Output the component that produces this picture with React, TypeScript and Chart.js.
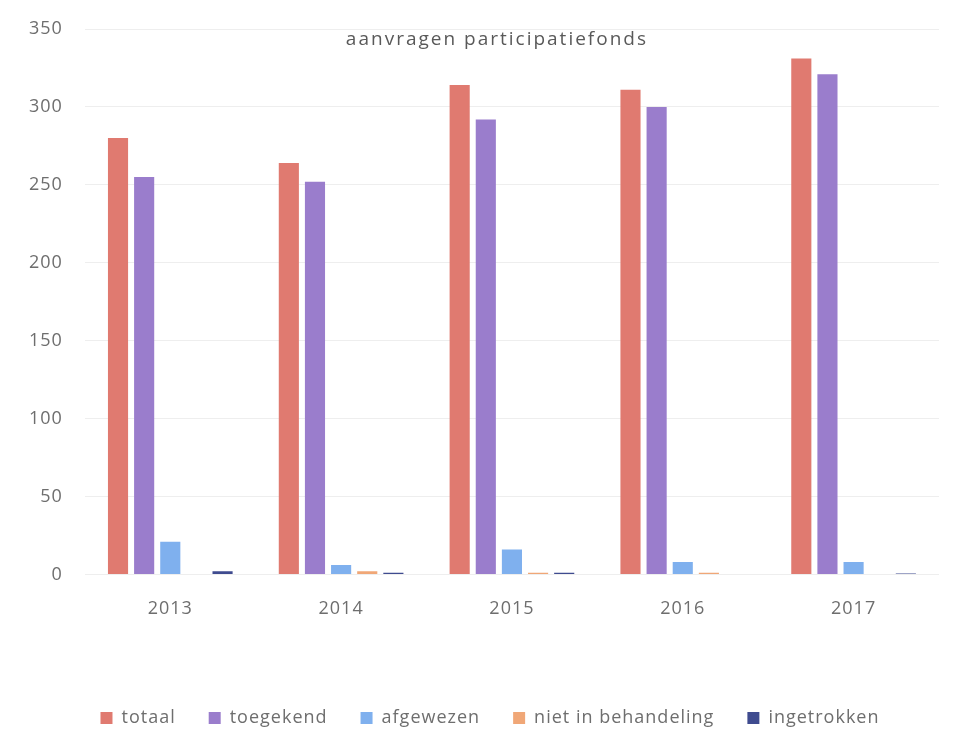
import React, { useEffect, useRef } from "react";
import { Chart, registerables } from "chart.js";

Chart.register(...registerables);

const categories = ["2013", "2014", "2015", "2016", "2017"];
const totaal = [280, 264, 314, 311, 331];
const toegekend = [255, 252, 292, 300, 321];
const afgewezen = [21, 6, 16, 8, 8];
const nietInBehandeling = [0, 2, 1, 1, 0];
const ingetrokken = [2, 1, 1, 0, 0.5];
const yTicks = [0, 50, 100, 150, 200, 250, 300, 350];

const FONT = "'Open Sans', Lato, sans-serif";
const TEXT = "#6e6e6e";

const spacingPlugin = {
  id: "spacing",
  beforeUpdate(chart: any) {
    chart.ctx.letterSpacing = "1px";
  },
  beforeLayout(chart: any) {
    chart.ctx.letterSpacing = "1px";
  },
  afterLayout(chart: any) {
    if (chart.legend) {
      chart.legend.left += 17;
      chart.legend.right += 17;
    }
  },
  beforeDraw(chart: any) {
    chart.ctx.letterSpacing = "1px";
  },
};

const titlePlugin = {
  id: "innerTitle",
  afterDraw(chart: any) {
    const { ctx, chartArea } = chart;
    ctx.save();
    ctx.letterSpacing = "2px";
    ctx.font = `19px ${FONT}`;
    ctx.fillStyle = "#595959";
    ctx.textAlign = "center";
    ctx.textBaseline = "middle";
    ctx.fillText("aanvragen participatiefonds", (chartArea.left + chartArea.right) / 2 - 15, chartArea.top + 11);
    ctx.restore();
  },
};

export default function App() {
  const ref = useRef<HTMLCanvasElement>(null);
  useEffect(() => {
    document.body.style.margin = "0";
    const ds = (label: string, data: number[], color: string) => ({
      label,
      data,
      backgroundColor: color,
      borderWidth: 0,
      categoryPercentage: 0.765,
      barPercentage: 0.77,
    });
    const chart = new Chart(ref.current!, {
      type: "bar",
      data: {
        labels: categories,
        datasets: [
          ds("totaal", totaal, "#e07a70"),
          ds("toegekend", toegekend, "#9a7dcc"),
          ds("afgewezen", afgewezen, "#7fb0ee"),
          ds("niet in behandeling", nietInBehandeling, "#f0a777"),
          ds("ingetrokken", ingetrokken, "#3f4b8f"),
        ],
      },
      options: {
        animation: false,
        responsive: false,
        maintainAspectRatio: false,
        layout: { padding: { top: 29, right: 18, left: 7, bottom: 11 } },
        scales: {
          x: {
            grid: { display: false },
            border: { display: false },
            ticks: { color: TEXT, font: { family: FONT, size: 18 }, padding: 16 },
            afterFit: (scale: any) => {
              scale.height += 40;
              scale.paddingLeft = 0;
              scale.paddingRight = 0;
            },
          },
          y: {
            min: 0,
            max: 350,
            afterBuildTicks: (scale: any) => {
              scale.ticks = yTicks.map((v) => ({ value: v }));
            },
            afterFit: (scale: any) => {
              scale.paddingTop = 0;
              scale.paddingBottom = 0;
            },
            grid: { color: "#eeeeee", lineWidth: 1, drawTicks: false },
            border: { display: false },
            ticks: { color: TEXT, font: { family: FONT, size: 18 }, padding: 22 },
          },
        },
        plugins: {
          legend: {
            position: "bottom",
            labels: {
              boxWidth: 12,
              boxHeight: 12,
              color: TEXT,
              font: { family: FONT, size: 18 },
              padding: 33,
            },
          },
          title: { display: false },
          tooltip: { enabled: false },
        },
      },
      plugins: [spacingPlugin, titlePlugin],
    } as any);
    return () => chart.destroy();
  }, []);
  return (
    <div style={{ width: 957, height: 748, background: "#fff" }}>
      <canvas ref={ref} width={957} height={748} />
    </div>
  );
}
